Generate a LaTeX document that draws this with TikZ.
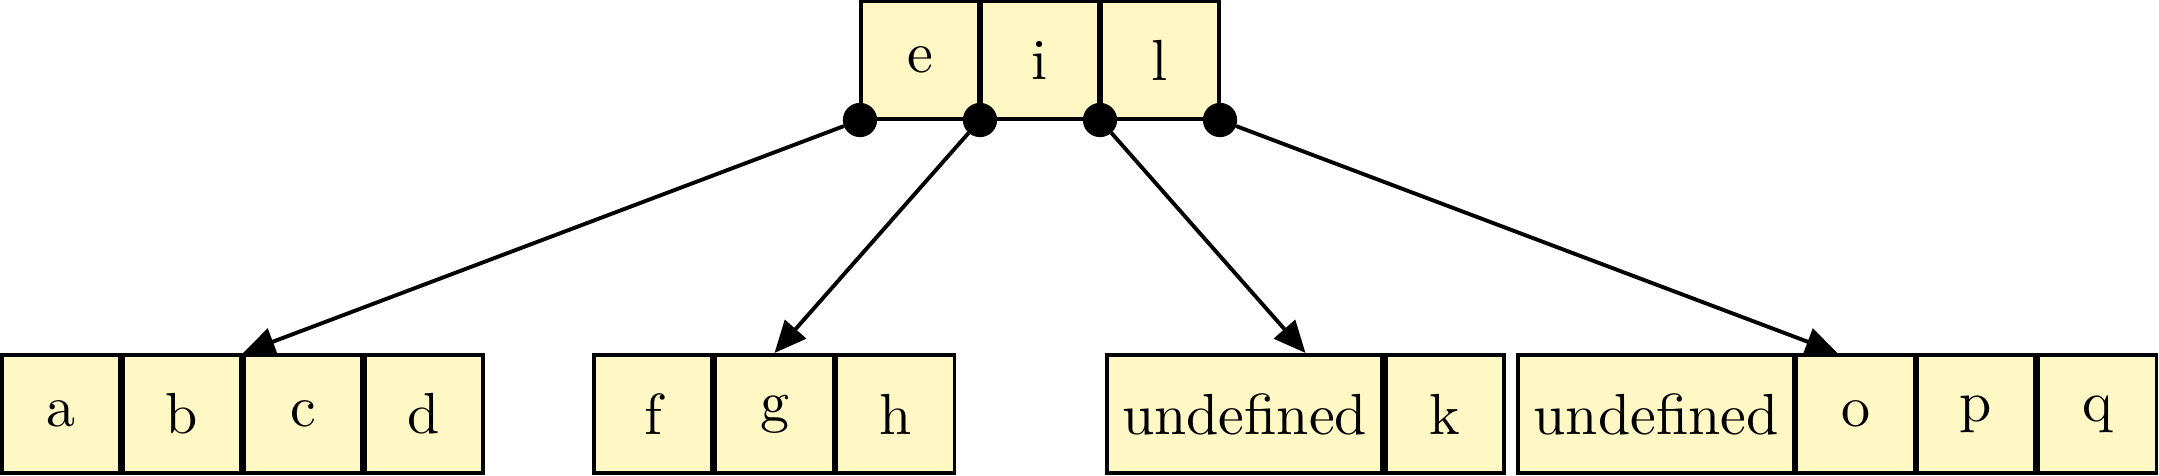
\documentclass[tikz,border=0pt]{standalone}
\usetikzlibrary{arrows.meta}
\definecolor{boxfill}{RGB}{255,248,196}
\begin{document}
\begin{tikzpicture}[x=0.172414pt,y=-0.172414pt,
  cell/.style={draw,line width=0.6pt,fill=boxfill,minimum height=20.34pt,minimum width=20.34pt,inner sep=0pt,outer sep=0pt},
  wide/.style={cell,minimum width=47.41pt},
  dotnode/.style={circle,fill=black,minimum size=5.9pt,inner sep=0pt,outer sep=0pt},
  link/.style={line width=0.67pt,-{Triangle[length=5.5pt,width=4.8pt]}}]
\useasboundingbox (0,0) rectangle (2159,476);
% root
\node[cell] (e) at (920,60) {e};
\node[cell] (i) at (1040,60) {i};
\node[cell] (l) at (1160,60) {l};
% group 1
\node[cell] (a) at (61,414) {a};
\node[cell] (b) at (182,414) {b};
\node[cell] (c) at (303,414) {c};
\node[cell] (d) at (424,414) {d};
% group 2
\node[cell] (f) at (653,414) {f};
\node[cell] (g) at (774.5,414) {g};
\node[cell] (h) at (895.5,414) {h};
% group 3
\node[wide] (u1) at (1244.5,414) {undefined};
\node[cell] (k) at (1445,414) {k};
% group 4
\node[wide,minimum width=47.59pt] (u2) at (1656,414) {undefined};
\node[cell] (o) at (1855.5,414) {o};
\node[cell] (p) at (1976,414) {p};
\node[cell] (q) at (2097.5,414) {q};
% targets
\coordinate (t1) at (243,353);
\coordinate (t2) at (774.5,353);
\coordinate (t3) at (1305.5,353);
\coordinate (t4) at (1837.5,353);
% dots
\node[dotnode] (p1) at (860,120) {};
\node[dotnode] (p2) at (980,120) {};
\node[dotnode] (p3) at (1100,120) {};
\node[dotnode] (p4) at (1220,120) {};
% links
\draw[link] (p1) -- (t1);
\draw[link] (p2) -- (t2);
\draw[link] (p3) -- (t3);
\draw[link] (p4) -- (t4);
\end{tikzpicture}
\end{document}
